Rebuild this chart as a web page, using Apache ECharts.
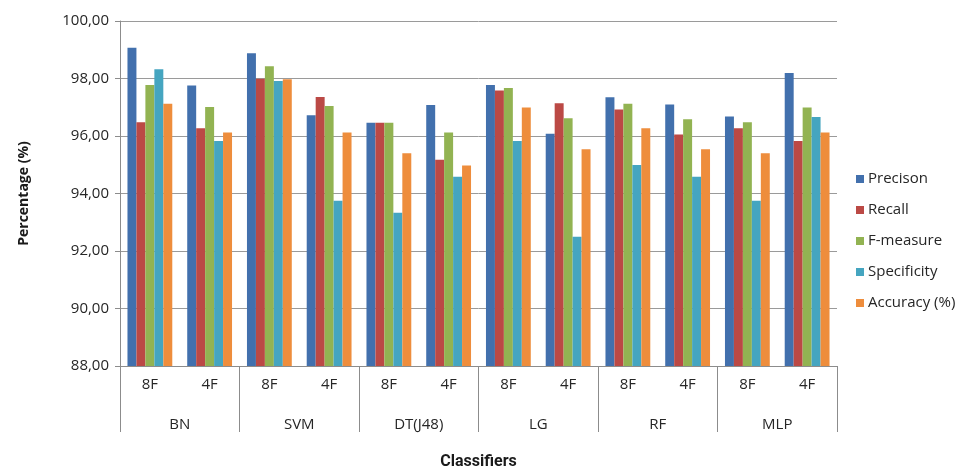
<!DOCTYPE html>
<html>
<head>
<meta charset="utf-8">
<script src="https://cdn.jsdelivr.net/npm/echarts@6/dist/echarts.min.js"></script>
<style>
  html, body { margin: 0; padding: 0; background: #ffffff; }
  #chart { width: 979px; height: 471px; }
</style>
</head>
<body>
<div id="chart"></div>
<script>
// Feature-set labels (inner axis level) and classifier groups (outer level)
const featureSets = ['8F', '4F', '8F', '4F', '8F', '4F', '8F', '4F', '8F', '4F', '8F', '4F'];
const classifiers = ['BN', 'SVM', 'DT(J48)', 'LG', 'RF', 'MLP'];
const yTicks = [88, 90, 92, 94, 96, 98, 100];

// Metric values (%) per classifier/feature-set, in the order of featureSets
const precision   = [99.07, 97.76, 98.88, 96.72, 96.46, 97.08, 97.77, 96.08, 97.35, 97.10, 96.68, 98.19];
const recall      = [96.48, 96.27, 97.99, 97.36, 96.46, 95.17, 97.58, 97.14, 96.92, 96.05, 96.27, 95.83];
const fMeasure    = [97.77, 97.01, 98.43, 97.04, 96.46, 96.12, 97.67, 96.62, 97.12, 96.58, 96.48, 96.99];
const specificity = [98.32, 95.83, 97.91, 93.75, 93.33, 94.58, 95.83, 92.50, 94.99, 94.58, 93.75, 96.66];
const accuracy    = [97.12, 96.12, 97.97, 96.12, 95.40, 94.97, 96.99, 95.54, 96.27, 95.54, 95.40, 96.12];

const seriesNames = ['Precison', 'Recall', 'F-measure', 'Specificity', 'Accuracy (%)'];
const seriesData = [precision, recall, fMeasure, specificity, accuracy];
const colors = ['#4270ad', '#bb4945', '#92b352', '#45a5c0', '#ee8d3c'];

const FONT = '"Open Sans", Lato, sans-serif';
const TITLE_FONT = 'Roboto, "Liberation Sans", sans-serif';
const TEXT = '#262626';

const chart = echarts.init(document.getElementById('chart'), null, { renderer: 'canvas' });

chart.setOption({
  animation: false,
  color: colors,
  textStyle: { fontFamily: FONT },
  grid: { left: 120, right: 142, top: 21, bottom: 105, containLabel: false, outerBoundsMode: 'none' },
  legend: {
    orient: 'vertical',
    left: 851,
    top: 164,
    itemWidth: 8,
    itemHeight: 8,
    itemGap: 11,
    icon: 'rect',
    data: seriesNames,
    textStyle: { fontFamily: FONT, fontSize: 15, color: TEXT, padding: [0, 0, 0, -1], lineHeight: 20 }
  },
  xAxis: [
    {
      type: 'category',
      data: featureSets,
      position: 'bottom',
      axisLine: { show: true, lineStyle: { color: '#8c8c8c', width: 1 } },
      axisTick: { show: false },
      axisLabel: { interval: 0, margin: 11, fontSize: 15, color: TEXT, fontFamily: FONT }
    },
    {
      type: 'category',
      data: classifiers,
      position: 'bottom',
      axisLine: { show: false },
      axisTick: { show: true, interval: 0, length: 66, lineStyle: { color: '#8c8c8c', width: 1 } },
      axisLabel: { interval: 0, margin: 51, fontSize: 15, color: TEXT, fontFamily: FONT },
      name: 'Classifiers',
      nameLocation: 'middle',
      nameGap: 88,
      nameTextStyle: { fontSize: 16, fontWeight: 'bold', color: '#1a1a1a', fontFamily: TITLE_FONT }
    }
  ],
  yAxis: {
    type: 'value',
    min: yTicks[0],
    max: yTicks[yTicks.length - 1],
    interval: yTicks[1] - yTicks[0],
    name: 'Percentage (%)',
    nameLocation: 'middle',
    nameGap: 89,
    nameTextStyle: { fontSize: 14, fontWeight: 'bold', color: '#1a1a1a', fontFamily: FONT },
    axisLine: { show: true, lineStyle: { color: '#8c8c8c', width: 1 } },
    axisTick: { show: true, length: 5, inside: false, lineStyle: { color: '#8c8c8c' } },
    axisLabel: {
      margin: 11, fontSize: 15, color: TEXT, fontFamily: FONT,
      formatter: v => v.toFixed(2).replace('.', ',')
    },
    splitLine: { show: true, lineStyle: { color: '#9a9a9a', width: 1 } }
  },
  series: seriesNames.map((name, i) => ({
    name: name,
    type: 'bar',
    xAxisIndex: 0,
    data: seriesData[i],
    barGap: '0%',
    barCategoryGap: '25%',
    itemStyle: { color: colors[i] }
  }))
});
</script>
</body>
</html>
